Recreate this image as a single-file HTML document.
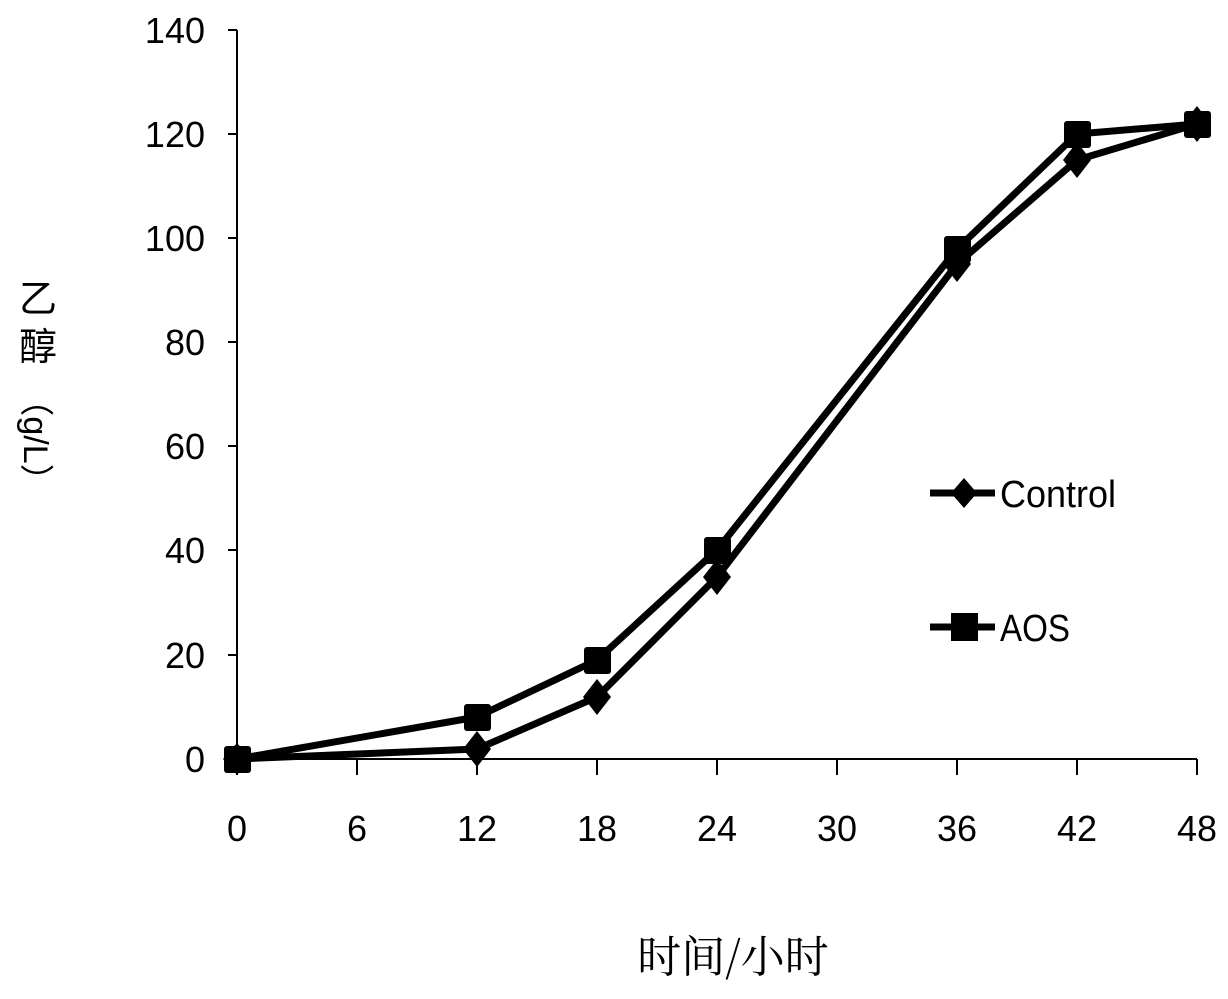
<!DOCTYPE html>
<html><head><meta charset="utf-8"><style>
html,body{margin:0;padding:0;background:#fff;}
svg text{font-family:"Liberation Sans Narrow","Liberation Sans",sans-serif;fill:#000;}
</style></head><body>
<svg width="1228" height="994" viewBox="0 0 1228 994" xmlns="http://www.w3.org/2000/svg">
<g stroke="#000" stroke-width="2">
<line x1="237" y1="30" x2="237" y2="759"/>
<line x1="237" y1="759" x2="1197" y2="759"/>
<line x1="228" y1="30" x2="237" y2="30"/>
<line x1="228" y1="134" x2="237" y2="134"/>
<line x1="228" y1="238" x2="237" y2="238"/>
<line x1="228" y1="342" x2="237" y2="342"/>
<line x1="228" y1="446" x2="237" y2="446"/>
<line x1="228" y1="550" x2="237" y2="550"/>
<line x1="228" y1="655" x2="237" y2="655"/>
<line x1="228" y1="759" x2="237" y2="759"/>
<line x1="237" y1="759" x2="237" y2="775"/>
<line x1="357" y1="759" x2="357" y2="775"/>
<line x1="477" y1="759" x2="477" y2="775"/>
<line x1="597" y1="759" x2="597" y2="775"/>
<line x1="717" y1="759" x2="717" y2="775"/>
<line x1="837" y1="759" x2="837" y2="775"/>
<line x1="957" y1="759" x2="957" y2="775"/>
<line x1="1077" y1="759" x2="1077" y2="775"/>
<line x1="1197" y1="759" x2="1197" y2="775"/>
</g>
<g font-size="36" text-anchor="end">
<text x="205" y="43">140</text><text x="205" y="147">120</text><text x="205" y="251">100</text>
<text x="205" y="355">80</text><text x="205" y="459">60</text><text x="205" y="563">40</text>
<text x="205" y="668">20</text><text x="205" y="772">0</text>
</g>
<g font-size="36" text-anchor="middle">
<text x="237" y="841">0</text><text x="357" y="841">6</text><text x="477" y="841">12</text>
<text x="597" y="841">18</text><text x="717" y="841">24</text><text x="837" y="841">30</text>
<text x="957" y="841">36</text><text x="1077" y="841">42</text><text x="1197" y="841">48</text>
</g>
<text x="733" y="972" font-size="44" text-anchor="middle" style='font-family:"Noto Serif CJK SC","Noto Sans CJK SC",serif'>时间/小时</text>
<g style='font-family:"Noto Serif CJK SC","Noto Sans CJK SC",serif' font-size="38" text-anchor="middle">
<text x="38" y="312">乙</text><text x="38" y="360">醇</text>
<text transform="translate(24,440) rotate(90)" font-size="34" style='font-family:"Liberation Sans",sans-serif'>（g/L）</text>
</g>
<g fill="none" stroke="#000" stroke-width="7" stroke-linejoin="round">
<polyline points="237,759 477,749 597,697 717,577 957,264 1077,160 1197,124"/>
<polyline points="237,759 477,717 597,660 717,550 957,249 1077,134 1197,124"/>
</g>
<g fill="#000">
<path d="M237,743 l14,16 -14,16 -14,-16z"/><path d="M477,731 l14,18 -14,18 -14,-18z"/>
<path d="M597,679 l14,18 -14,18 -14,-18z"/><path d="M717,559 l14,18 -14,18 -14,-18z"/>
<path d="M957,246 l14,18 -14,18 -14,-18z"/><path d="M1077,142 l14,18 -14,18 -14,-18z"/>
<path d="M1197,106 l14,18 -14,18 -14,-18z"/>
<rect x="224" y="746" width="27" height="27" rx="3"/><rect x="464" y="704" width="27" height="27" rx="3"/>
<rect x="584" y="647" width="27" height="27" rx="3"/><rect x="704" y="537" width="27" height="27" rx="3"/>
<rect x="944" y="236" width="27" height="27" rx="3"/><rect x="1064" y="121" width="27" height="27" rx="3"/>
<rect x="1184" y="111" width="27" height="27" rx="3"/>
</g>
<g stroke="#000" stroke-width="7"><line x1="930" y1="493" x2="995" y2="493"/><line x1="930" y1="627" x2="995" y2="627"/></g>
<path d="M964,478 l13,15 -13,15 -13,-15z" fill="#000"/>
<rect x="951" y="613" width="27" height="28" fill="#000"/>
<text x="1000" y="507" font-size="38" textLength="116" lengthAdjust="spacingAndGlyphs">Control</text>
<text x="1000" y="641" font-size="38" textLength="70" lengthAdjust="spacingAndGlyphs">AOS</text>
</svg>
</body></html>
